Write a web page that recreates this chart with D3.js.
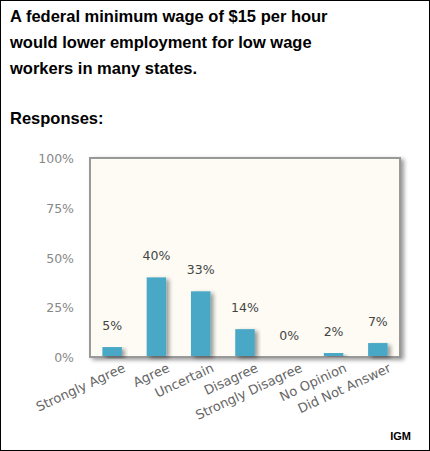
<!DOCTYPE html>
<html><head><meta charset="utf-8">
<script src="https://cdn.jsdelivr.net/npm/d3@7"></script>
<style>body{margin:0;background:#fff}</style>
</head><body><div id="chart"></div>
<script>
const categories = ["Strongly Agree","Agree","Uncertain","Disagree","Strongly Disagree","No Opinion","Did Not Answer"];
const values = [5,40,33,14,0,2,7];
const yTicks = [0,25,50,75,100];
const titleLines = ["A federal minimum wage of $15 per hour","would lower employment for low wage","workers in many states."];

const W = 430, H = 451;
const svg = d3.select("#chart").append("svg").attr("width", W).attr("height", H);
svg.append("rect").attr("x",0.5).attr("y",0.5).attr("width",W-1).attr("height",H-1)
  .attr("fill","#fff").attr("stroke","#000");

titleLines.forEach((t,i) => svg.append("text").attr("x",10).attr("y",22+i*26)
  .attr("font-family","Liberation Sans, Arial").attr("font-weight","bold").attr("font-size",16.5).text(t));
svg.append("text").attr("x",10).attr("y",124).attr("font-family","Liberation Sans, Arial")
  .attr("font-weight","bold").attr("font-size",16.5).text("Responses:");

// plot frame
const plot = {left: 90, right: 400, top: 158, bottom: 357};
const x = d3.scaleBand().domain(categories).range([plot.left,plot.right]).paddingInner(0.56).paddingOuter(0.28);
const y = d3.scaleLinear().domain([0,100]).range([plot.bottom,plot.top]);

const defs = svg.append("defs");
const f = defs.append("filter").attr("id","sh").attr("x","-20%").attr("y","-20%").attr("width","150%").attr("height","150%");
f.append("feGaussianBlur").attr("in","SourceAlpha").attr("stdDeviation",2);
f.append("feOffset").attr("dx",3).attr("dy",2).attr("result","b");
f.append("feComponentTransfer").append("feFuncA").attr("type","linear").attr("slope",0.4);
const m = f.append("feMerge"); m.append("feMergeNode"); m.append("feMergeNode").attr("in","SourceGraphic");

svg.append("rect").attr("x",plot.left).attr("y",plot.top).attr("width",plot.right-plot.left).attr("height",plot.bottom-plot.top)
  .attr("fill","#fdfbf3").attr("stroke","#999").attr("stroke-width",2).attr("filter","url(#sh)");

const font = "DejaVu Sans, Verdana";
svg.append("g").selectAll("text").data(yTicks).join("text")
  .attr("x",74).attr("y",d=>y(d)+5).attr("text-anchor","end")
  .attr("font-family",font).attr("font-size",12.5).attr("fill","#888").text(d=>d+"%");

svg.append("g").selectAll("rect").data(values).join("rect")
  .attr("x",(d,i)=>x(categories[i])).attr("width",x.bandwidth())
  .attr("y",d=>y(d)).attr("height",d=>Math.max(0,plot.bottom-1-y(d)))
  .attr("fill","#49a8c6").attr("filter","url(#sh)");

svg.append("g").selectAll("text").data(values).join("text")
  .attr("x",(d,i)=>x(categories[i])+x.bandwidth()/2).attr("y",d=>y(d)-17)
  .attr("text-anchor","middle").attr("font-family",font).attr("font-size",12.5).attr("fill","#444")
  .text(d=>d+"%");

svg.append("g").selectAll("text").data(categories).join("text")
  .attr("transform",d=>`translate(${x(d)+x.bandwidth()/2+14},${plot.bottom+14}) rotate(-25)`)
  .attr("text-anchor","end").attr("font-family",font).attr("font-size",13).attr("fill","#666").text(d=>d);

svg.append("text").attr("x",411).attr("y",440).attr("text-anchor","end")
  .attr("font-family","Liberation Sans, Arial").attr("font-weight","bold").attr("font-size",11).text("IGM");
</script></body></html>
